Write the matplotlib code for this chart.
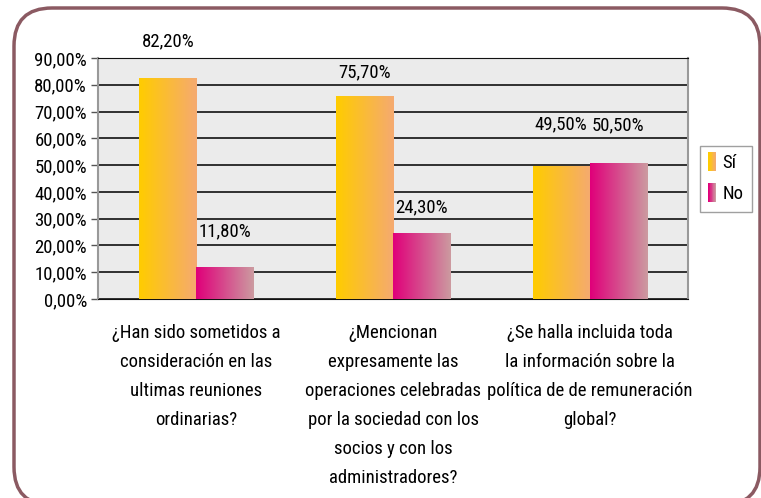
import numpy as np
import matplotlib
matplotlib.use('Agg')
import matplotlib.pyplot as plt
from matplotlib.patches import FancyBboxPatch, Rectangle
from matplotlib.colors import LinearSegmentedColormap
from matplotlib.legend_handler import HandlerBase
from matplotlib.ticker import FuncFormatter

plt.rcParams['font.family'] = ['Roboto Condensed', 'DejaVu Sans']

categories = [
    '¿Han sido sometidos a\nconsideración en las\nultimas reuniones\nordinarias?',
    '¿Mencionan\nexpresamente las\noperaciones celebradas\npor la sociedad con los\nsocios y con los\nadministradores?',
    '¿Se halla incluida toda\nla información sobre la\npolítica de de remuneración\nglobal?',
]
si_values = [82.2, 75.7, 49.5]
no_values = [11.8, 24.3, 50.5]
series_names = ['Sí', 'No']

SI_COLORS = ['#FFCC00', '#F5AA70']
NO_COLORS = ['#E0007A', '#CC9AA0']
BORDER_COLOR = '#8B5A62'
FS = 13.5
# label offsets above the bar tops, in points
SI_OFFSETS = [27, 17, 30]
NO_OFFSETS = [26, 19, 28]


def gradient_fill(ax, bars, colors):
    cmap = LinearSegmentedColormap.from_list('g', colors)
    grad = np.linspace(0, 1, 64).reshape(1, -1)
    for bar in bars:
        x0, y0 = bar.get_x(), bar.get_y()
        x1, y1 = x0 + bar.get_width(), y0 + bar.get_height()
        ax.imshow(grad, cmap=cmap, extent=(x0, x1, y0, y1),
                  aspect='auto', zorder=3, interpolation='bilinear')


class GradientHandler(HandlerBase):
    def __init__(self, colors):
        super().__init__()
        self.colors = colors

    def create_artists(self, legend, orig_handle, xdescent, ydescent,
                       width, height, fontsize, trans):
        cmap = LinearSegmentedColormap.from_list('g', self.colors)
        n = 12
        arts = []
        for i in range(n):
            r = Rectangle((-xdescent + width * i / n, -ydescent - 2),
                          width / n + 0.1, height + 4,
                          facecolor=cmap(i / (n - 1)), edgecolor='none',
                          transform=trans)
            arts.append(r)
        return arts


fig = plt.figure(figsize=(7.61, 4.98), dpi=100)
ax = fig.add_axes([98 / 761, (498 - 299) / 498, (688 - 98) / 761, (299 - 58) / 498])
ax.set_facecolor('#EBEBEB')

x = np.arange(len(categories))
w = 0.29
si_bars = ax.bar(x - w / 2, si_values, w, color='none', label=series_names[0], zorder=3)
no_bars = ax.bar(x + w / 2, no_values, w, color='none', label=series_names[1], zorder=3)
gradient_fill(ax, si_bars, SI_COLORS)
gradient_fill(ax, no_bars, NO_COLORS)

for bars, vals, offs in ((si_bars, si_values, SI_OFFSETS), (no_bars, no_values, NO_OFFSETS)):
    for bar, v, off in zip(bars, vals, offs):
        ax.annotate(f'{v:.2f}%'.replace('.', ','),
                    (bar.get_x() + bar.get_width() / 2, v),
                    xytext=(0, off), textcoords='offset points',
                    ha='center', va='center', fontsize=FS, annotation_clip=False)

ax.set_xlim(-0.5, 2.5)
ax.set_ylim(0, 90)
ax.set_yticks(np.arange(0, 91, 10))
ax.yaxis.set_major_formatter(FuncFormatter(lambda v, _: f'{v:.2f}%'.replace('.', ',')))
ax.yaxis.grid(True, color='#111111', linewidth=1.2, zorder=1)
ax.set_axisbelow(True)
ax.set_xticks(x)
ax.set_xticklabels(categories, fontsize=FS, linespacing=1.78, va='top')
ax.tick_params(axis='x', length=0, pad=18)
ax.tick_params(axis='y', length=5, width=1, labelsize=FS, pad=3, color='#555555')
for side in ('left', 'right'):
    ax.spines[side].set_color('#999999')
    ax.spines[side].set_linewidth(1.5)
ax.spines['top'].set_color('#111111')
ax.spines['bottom'].set_color('#111111')

leg = ax.legend(handles=[si_bars, no_bars], labels=series_names,
                handler_map={si_bars: GradientHandler(SI_COLORS),
                             no_bars: GradientHandler(NO_COLORS)},
                loc='center left', bbox_to_anchor=(1.02, 0.5),
                fontsize=FS, frameon=True, fancybox=False,
                handlelength=0.42, handletextpad=0.35, borderpad=0.45,
                labelspacing=0.7, borderaxespad=0)
leg.get_frame().set_edgecolor('#888888')
leg.get_frame().set_linewidth(1)

border = FancyBboxPatch((0.14, -0.07), 7.46, 4.97,
                        boxstyle='round,pad=0,rounding_size=0.38',
                        transform=fig.dpi_scale_trans, fill=False,
                        edgecolor=BORDER_COLOR, linewidth=2.5, clip_on=False)
fig.patches.append(border)

fig.savefig('out.png', dpi=100)
